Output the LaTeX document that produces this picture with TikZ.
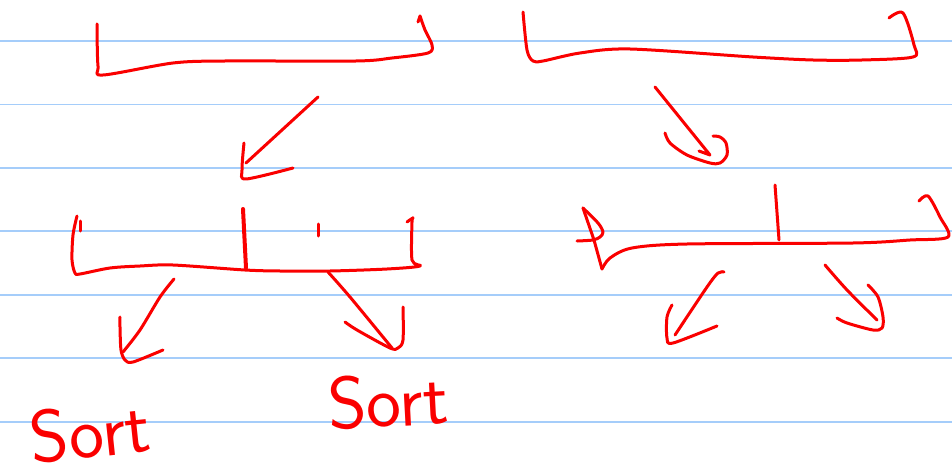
\documentclass[tikz,border=0pt]{standalone}
\usepackage{tikz}

\definecolor{ruleblue}{RGB}{165,205,250}
\definecolor{inkred}{RGB}{250,0,0}

\begin{document}
\begin{tikzpicture}[x=1pt, y=-1pt,
    ink/.style={inkred, line width=3pt, line cap=round, line join=round},
    rule/.style={ruleblue, line width=1.6pt},
    word/.style={inkred, font=\sffamily\fontsize{74}{74}\selectfont, inner sep=0pt}]
        % Paper
        \fill[white] (0,0) rectangle (952,476);
        \useasboundingbox (0,0) rectangle (952,476);
        \foreach \y in {41,104.5,168,231,295,358,422}
            \draw[rule] (0,\y) -- (952,\y);

        % Top brackets
        \draw[ink] plot[smooth, tension=0.5] coordinates {(97,24) (98,66) (103,75) (173,63) (225,61) (356,61) (392,58) (428,53) (432,45) (425,30) (420,16)};
        \draw[ink] (420,16) -- (418,22);
        \draw[ink] plot[smooth, tension=0.5] coordinates {(523,12) (527,50) (533,61) (543,61) (580,53) (630,49) (753,57) (813,60) (862,60) (913,57) (914,45) (903,13) (889,18)};

        % Arrows down
        \coordinate (al1) at (318,97);
        \coordinate (al2) at (246,163);
        \draw[ink] (al1) -- (al2);
        \draw[ink] plot[smooth, tension=0.5] coordinates {(244,143) (242,170) (246,179) (293,168)};
        \coordinate (ar1) at (655,87);
        \coordinate (ar2) at (710,155);
        \draw[ink] (ar1) -- (ar2) -- (699,151);
        \draw[ink] plot[smooth, tension=0.5] coordinates {(665,133) (670,143) (687,155) (710,163) (720,163) (727,155) (726,143) (720,137) (713,136)};

        % Left bracket
        \draw[ink] plot[smooth, tension=0.5] coordinates {(77,216) (73,235) (72,260) (75,273) (80,274) (110,268) (140,266) (173,265) (245,270) (280,271) (330,271) (387,269) (420,266) (412,260) (412,222) (413,218) (407,222)};
        \draw[ink] (80,221) -- (80,231);
        \draw[ink, line width=4pt] (243,209) -- (246,268);
        \draw[ink] (318,224) -- (318,236);

        % Right bracket
        \draw[ink] (583,208) -- (594,240) -- (602,269);
        \draw[ink] plot[smooth, tension=0.5] coordinates {(583,208) (598,223) (603,232) (600,237) (593,240) (577,241)};
        \draw[ink] plot[smooth, tension=0.5] coordinates {(602,269) (610,258) (632,248) (687,244) (853,243) (910,240) (948,237) (940,217) (928,196) (919,201)};
        \draw[ink] (775,185) -- (779,240);

        % Arrows from the left bracket
        \draw[ink] plot[smooth, tension=0.5] coordinates {(174,279) (160,297) (140,330) (123,352)};
        \draw[ink] plot[smooth, tension=0.5] coordinates {(120,317) (120,327) (121,350) (125,360) (133,362) (163,350)};
        \draw[ink] plot[smooth, tension=0.5] coordinates {(328,272) (350,297) (392,348)};
        \draw[ink] plot[smooth, tension=0.5] coordinates {(345,322) (357,330) (390,348) (398,348) (403,340) (403,307)};

        % Arrows from the right bracket
        \draw[ink] plot[smooth, tension=0.5] coordinates {(724,272) (718,273) (707,287) (675,335)};
        \draw[ink] plot[smooth, tension=0.5] coordinates {(672,305) (667,317) (667,338) (673,343) (717,326)};
        \draw[ink] plot[smooth, tension=0.5] coordinates {(825,265) (847,290) (877,320)};
        \draw[ink] plot[smooth, tension=0.5] coordinates {(837,318) (847,323) (873,330) (882,328) (883,317) (878,297) (868,285)};

        % Labels
        \node[word, rotate=6] (sortl) at (90,432) {Sort};
        \node[word, rotate=3] (sortr) at (388,401) {Sort};
    \end{tikzpicture}
\end{document}
